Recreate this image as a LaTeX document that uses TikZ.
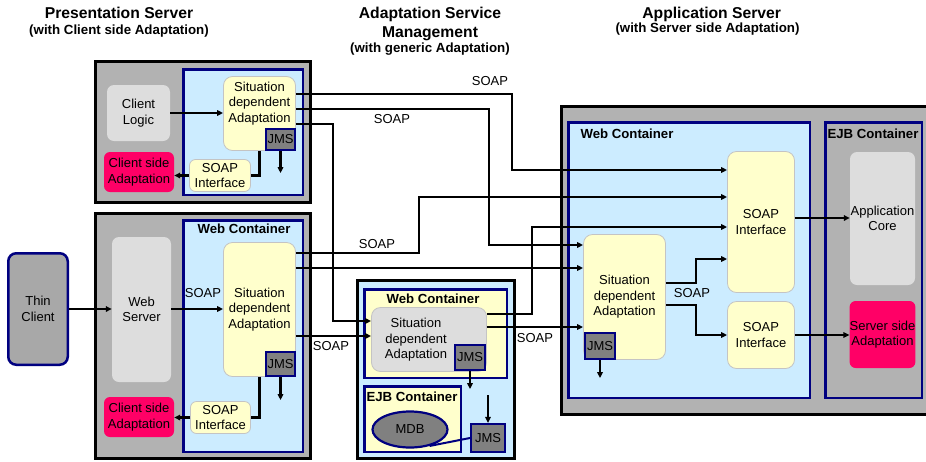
\documentclass[tikz,border=0pt]{standalone}
\usepackage{fontspec}
\setmainfont{Liberation Sans}
\usetikzlibrary{arrows.meta,shapes.geometric}
\definecolor{servergray}{HTML}{B2B2B2}
\definecolor{paleblue}{HTML}{CCECFF}
\definecolor{paleyellow}{HTML}{FFFFCC}
\definecolor{lightgraybox}{HTML}{DDDDDD}
\definecolor{hotpink}{HTML}{FF0066}
\definecolor{jmsgray}{HTML}{808080}
\definecolor{navyline}{HTML}{000080}
\definecolor{softedge}{HTML}{C4C4C4}
\definecolor{clientgray}{HTML}{A8A8A8}

\begin{document}
\begin{tikzpicture}[x=1pt,y=-1pt,
  every node/.style={font=\fontsize{13}{15.5}\selectfont, align=center, inner sep=0pt},
  sz/.style 2 args={minimum width=#1pt, minimum height=#2pt},
  server/.style={draw=black, line width=3pt, fill=servergray},
  asmserver/.style={draw=black, line width=3pt, fill=paleblue},
  webc/.style={draw=navyline, line width=2.5pt, fill=paleblue},
  yellowc/.style={draw=navyline, line width=2.5pt, fill=paleyellow},
  grayc/.style={draw=navyline, line width=2.5pt, fill=servergray},
  sitdep/.style={draw=softedge, line width=0.8pt, fill=paleyellow, rounded corners=9pt},
  sitdepgray/.style={draw=softedge, line width=0.8pt, fill=lightgraybox, rounded corners=9pt},
  iface/.style={draw=softedge, line width=0.8pt, fill=paleyellow, rounded corners=6pt},
  logicbox/.style={fill=lightgraybox, rounded corners=7pt},
  pinkbox/.style={fill=hotpink, rounded corners=6pt},
  thin/.style={draw=navyline, line width=2.5pt, fill=clientgray, rounded corners=8pt},
  jms/.style={draw=navyline, line width=2.2pt, fill=jmsgray},
  mdbshape/.style={ellipse, draw=navyline, line width=2.2pt, fill=jmsgray},
  title/.style={font=\fontsize{15.7}{18}\selectfont\bfseries, anchor=base},
  subtitle/.style={font=\fontsize{13.3}{16}\selectfont\bfseries, anchor=base},
  boxlabel/.style={font=\fontsize{13.2}{15}\selectfont\bfseries, anchor=base},
  soap/.style={font=\fontsize{13}{15}\selectfont, anchor=base},
  wire/.style={line width=2.8pt, draw=black},
  flow/.style={wire, -{Triangle[length=6pt,width=5.5pt]}},
  linkline/.style={draw=navyline, line width=2pt},
]
\useasboundingbox (0,0) rectangle (926,461);
\clip (0,0) rectangle (926,461);

% headings
\node[title] (hps) at (119,18.7) {Presentation Server};
\node[subtitle] (hpss) at (119,34.3) {(with Client side Adaptation)};
\node[title] (hasm) at (430,18.4) {Adaptation Service};
\node[title] (hasm2) at (430,37.4) {Management};
\node[subtitle] (hasms) at (430,52.8) {(with generic Adaptation)};
\node[title] (happ) at (711.7,18.4) {Application Server};
\node[subtitle] (happs) at (707.5,32.3) {(with Server side Adaptation)};

% presentation server with client side adaptation (upper)
\node[server, sz={215}{141}] (ps1) at (203,132) {};
\node[webc, sz={119.5}{125.5}] (wc1) at (243,132) {};
\node[logicbox, sz={63}{56}] (cl) at (138.5,113) {Client\\Logic};
\node[sitdep, sz={72}{74}] (sda1) at (259.5,113.5) {};
\node (sda1t) at (259.5,103.5) {Situation\\dependent\\Adaptation};
\node[jms, sz={29}{21}] (jms1) at (280.5,139.5) {JMS};
\node[pinkbox, sz={70}{40}] (csa1) at (139,172) {Client side\\Adaptation};
\node[iface, sz={61}{32}] (si1p) at (220,175.5) {SOAP\\Interface};

% presentation server (lower) with web server
\node[server, sz={215}{245}] (ps2) at (203,336) {};
\node[webc, sz={119.5}{231.5}] (wc2) at (243,336) {};
\node[boxlabel] (wc2l) at (244,233.8) {Web Container};
\node[logicbox, sz={59}{145}] (ws) at (141.5,309.5) {Web\\Server};
\node[sitdep, sz={72}{134}] (sda2p) at (259.5,309.5) {Situation\\dependent\\Adaptation};
\node[jms, sz={29}{24}] (jms2p) at (280.5,364) {JMS};
\node[iface, sz={60}{32}] (si2p) at (220.5,417.5) {SOAP\\Interface};
\node[pinkbox, sz={70}{40}] (csa2) at (139,417) {Client side\\Adaptation};

\node[thin, sz={59.5}{111.5}] (tc) at (38,309) {Thin\\Client};

% adaptation service management
\node[asmserver, sz={157}{178}] (asm) at (436,369.5) {};
\node[yellowc, sz={142.5}{88.5}] (asmwc) at (435.5,333.5) {};
\node[boxlabel] (asmwcl) at (433,303.8) {Web Container};
\node[sitdepgray, sz={115}{64}] (sdam) at (429,339.5) {};
\node (sdamt) at (416,340) {Situation\\dependent\\Adaptation};
\node[jms, sz={30}{25}] (jmsa) at (470,357.5) {JMS};
\node[yellowc, sz={96.5}{65.5}] (ejba) at (412.5,419) {};
\node[boxlabel] (ejbal) at (412,401.8) {EJB Container};
\node[mdbshape, sz={75}{36}] (mdb) at (410,429.5) {MDB};
\node[jms, sz={34}{28}] (jmsb) at (488,438) {JMS};

% application server with server side adaptation
\node[server, sz={377}{308}] (app) at (750,260.5) {};
\node[webc, sz={241.5}{275.5}] (appwc) at (689,260) {};
\node[boxlabel] (appwcl) at (627,138.8) {Web Container};
\node[grayc, sz={96.5}{275.5}] (appejb) at (873.5,260) {};
\node[boxlabel] (appejbl) at (873,138.8) {EJB Container};
\node[logicbox, sz={65}{133}] (ac) at (882.5,218.5) {Application\\Core};
\node[pinkbox, sz={65}{67}] (ssa) at (882.5,334.5) {Server side\\Adaptation};
\node[sitdep, sz={67}{141}] (sia1) at (761,222) {SOAP\\Interface};
\node[sitdep, sz={67}{67}] (sia2) at (761,335) {SOAP\\Interface};
\node[sitdep, sz={82}{125}] (sdaa) at (624.5,297) {Situation\\dependent\\Adaptation};
\node[jms, sz={30}{26}] (jmsa3) at (600,346) {JMS};

% local connectors, upper presentation server
\draw[flow] (cl.east) -- (cl.east -| sda1.west);
\draw[wire] (sda1.south) |- (si1p.east);
\draw[flow] (si1p.west) -- (csa1.east |- si1p.west);
\draw[flow] (jms1.south) -- ++(0,22);

% local connectors, lower presentation server
\draw[flow] (tc.east) -- (ws.west |- tc.east);
\draw[flow] (ws.east |- 0,309) -- (sda2p.west |- 0,309);
\draw[wire] (sda2p.south) |- (si2p.east);
\draw[flow] (si2p.west) -- (csa2.east |- si2p.west);
\draw[flow] (jms2p.south) -- ++(0,23);

% adaptation service management internals
\draw[flow] (jmsa.south) -- ++(0,18);
\draw[flow] (jmsb.north |- 0,395) -- (jmsb.north);
\draw[linkline] (mdb.-40) -- (jmsb.west);

% SOAP links between the servers
\draw[flow] (sda1.east |- 0,94) -| (512,170) -- (sia1.west |- 0,170);
\draw[flow] (sda1.east |- 0,109) -| (489,245) -- (sdaa.west |- 0,245);
\draw[flow] (sda1.east |- 0,124) -| (333,321) -- (sdam.west |- 0,321);
\draw[flow] (sda2p.east |- 0,253) -| (419,197) -- (sia1.west |- 0,197);
\draw[flow] (sda2p.east |- 0,268) -- (sdaa.west |- 0,268);
\draw[flow] (sda2p.east |- 0,336) -- (sdam.west |- 0,336);
\draw[flow] (sdam.east |- 0,314) -| (532,227) -- (sia1.west |- 0,227);
\draw[flow] (sdam.east |- 0,327) -- (sdaa.west |- 0,327);

% application server internals
\draw[flow] (sdaa.east |- 0,283) -| (696,259) -- (sia1.west |- 0,259);
\draw[flow] (sdaa.east |- 0,305) -| (696,335) -- (sia2.west |- 0,335);
\draw[flow] (sia1.east |- 0,218) -- (ac.west |- 0,218);
\draw[flow] (sia2.east |- 0,335) -- (ssa.west |- 0,335);
\draw[flow] (jmsa3.south) -- ++(0,18);

% SOAP labels
\node[soap] (s1) at (490,85.7) {SOAP};
\node[soap] (s2) at (392,123.7) {SOAP};
\node[soap] (s3) at (377,248.7) {SOAP};
\node[soap] (s4) at (203,297.7) {SOAP};
\node[soap] (s5) at (331,350.7) {SOAP};
\node[soap] (s6) at (535,342.7) {SOAP};
\node[soap] (s7) at (692,297.7) {SOAP};
\end{tikzpicture}
\end{document}
